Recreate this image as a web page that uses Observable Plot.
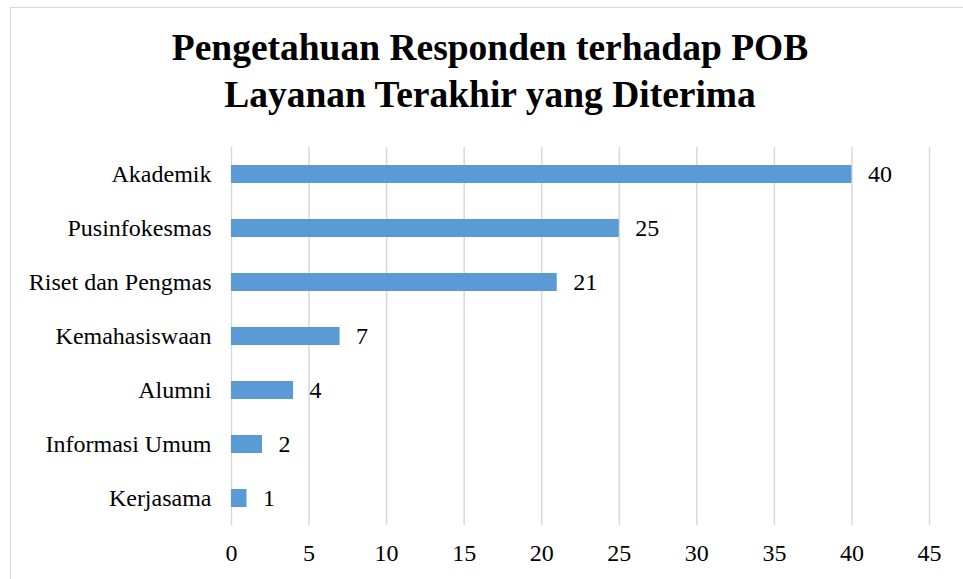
<!DOCTYPE html>
<html>
<head>
<meta charset="utf-8">
<script src="https://cdn.jsdelivr.net/npm/d3@7"></script>
<script src="https://cdn.jsdelivr.net/npm/@observablehq/plot@0.6"></script>
<style>
  html, body { margin: 0; padding: 0; background: #fff; width: 963px; height: 579px; overflow: hidden; position: relative; }
  #frame { position: absolute; left: 10px; top: 7px; width: 990px; height: 620px; border: 1.5px solid #d9d9d9; box-sizing: border-box; }
  #title { position: absolute; left: 0; width: 980px; top: 24px; text-align: center; font-family: "Liberation Serif", "Times New Roman", serif; font-weight: bold; font-size: 37.5px; line-height: 47px; color: #000; }
  #chart { position: absolute; left: 0; top: 140px; }
</style>
</head>
<body>
<div id="frame"></div>
<div id="title">Pengetahuan Responden terhadap POB<br>Layanan Terakhir yang Diterima</div>
<div id="chart"></div>
<script>
const categories = ["Akademik", "Pusinfokesmas", "Riset dan Pengmas", "Kemahasiswaan", "Alumni", "Informasi Umum", "Kerjasama"];
const values = [40, 25, 21, 7, 4, 2, 1];
const xTicks = [0, 5, 10, 15, 20, 25, 30, 35, 40, 45];

const data = categories.map((c, i) => ({category: c, value: values[i]}));

const chart = Plot.plot({
  width: 963,
  height: 439,
  marginLeft: 231,
  marginRight: 34,
  marginTop: 7,
  marginBottom: 54,
  style: {fontFamily: "'Liberation Serif', 'Times New Roman', serif", background: "transparent", color: "#000"},
  x: {domain: [0, 45], ticks: xTicks},
  y: {domain: categories, padding: 0},
  marks: [
    Plot.gridX(xTicks, {stroke: "#d9d9d9", strokeOpacity: 1, strokeWidth: 1.5}),
    Plot.barX(data, {x: "value", y: "category", fill: "#5B9BD5", insetTop: 18, insetBottom: 18}),
    Plot.text(data, {x: "value", y: "category", text: d => String(d.value), dx: 16, textAnchor: "start", fontSize: 24, fill: "#000"}),
    Plot.axisX(xTicks, {tickSize: 0, tickPadding: 18, fontSize: 24, label: null, fill: "#000"}),
    Plot.axisY({tickSize: 0, tickPadding: 20, fontSize: 24, label: null, fill: "#000"})
  ]
});
document.getElementById("chart").appendChild(chart);
</script>
</body>
</html>
